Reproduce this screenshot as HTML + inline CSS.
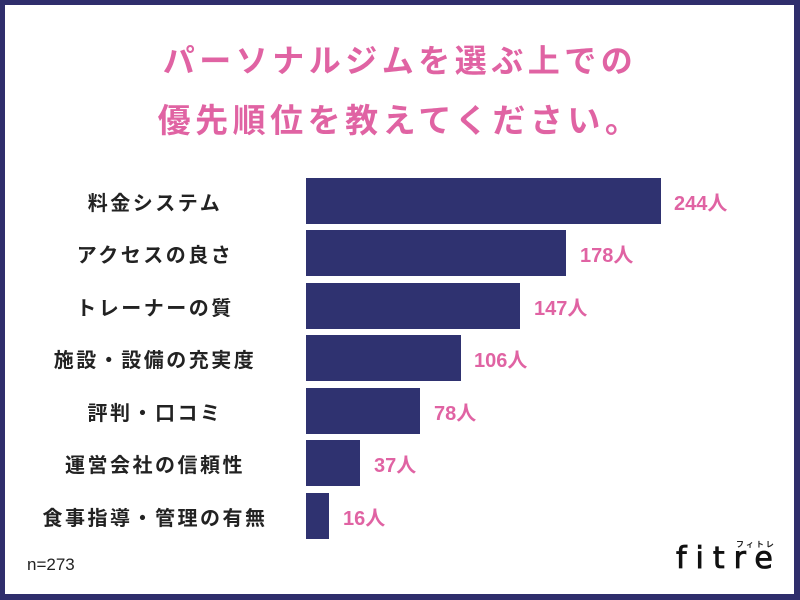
<!DOCTYPE html>
<html><head><meta charset="utf-8"><style>
body{margin:0;width:800px;height:600px;overflow:hidden;background:#2f2e6c;font-family:"Liberation Sans","Noto Sans CJK JP",sans-serif;}
#f{position:absolute;left:5px;top:5px;width:789px;height:589px;background:#fff;}
.t{position:absolute;left:0;width:800px;text-align:center;color:#e063a3;font-weight:bold;font-size:32px;letter-spacing:4.5px;}
.l{position:absolute;left:0;width:310px;text-align:center;font-weight:bold;font-size:20px;color:#222;letter-spacing:2.5px;}
.b{position:absolute;left:306px;height:46px;background:#2f3270;}
.v{position:absolute;font-weight:bold;font-size:20px;color:#e063a3;}
</style></head><body><div id="f"></div>
<div class="t" style="top:36px">パーソナルジムを選ぶ上での</div>
<div class="t" style="top:94px;font-size:33px">優先順位を教えてください。</div>
<div class="l" style="top:187px">料金システム</div><div class="b" style="top:178px;width:355px"></div><div class="v" style="left:674px;top:187px">244人</div>
<div class="l" style="top:239px">アクセスの良さ</div><div class="b" style="top:230px;width:260px"></div><div class="v" style="left:580px;top:239px">178人</div>
<div class="l" style="top:292px">トレーナーの質</div><div class="b" style="top:283px;width:214px"></div><div class="v" style="left:534px;top:292px">147人</div>
<div class="l" style="top:344px">施設・設備の充実度</div><div class="b" style="top:335px;width:155px"></div><div class="v" style="left:474px;top:344px">106人</div>
<div class="l" style="top:397px">評判・口コミ</div><div class="b" style="top:388px;width:114px"></div><div class="v" style="left:434px;top:397px">78人</div>
<div class="l" style="top:449px">運営会社の信頼性</div><div class="b" style="top:440px;width:54px"></div><div class="v" style="left:374px;top:449px">37人</div>
<div class="l" style="top:502px">食事指導・管理の有無</div><div class="b" style="top:493px;width:23px"></div><div class="v" style="left:343px;top:502px">16人</div>
<div style="position:absolute;left:27px;top:555px;font-size:17px;color:#222">n=273</div>
<div style="position:absolute;left:736px;top:539px;font-size:8px;color:#222;font-weight:bold;letter-spacing:2px">フィトレ</div>
<div style="position:absolute;left:676px;top:541px;font-size:30px;color:#111;letter-spacing:9px;font-family:'DejaVu Sans',sans-serif;-webkit-text-stroke:0.8px #111">fitre</div>
</body></html>
